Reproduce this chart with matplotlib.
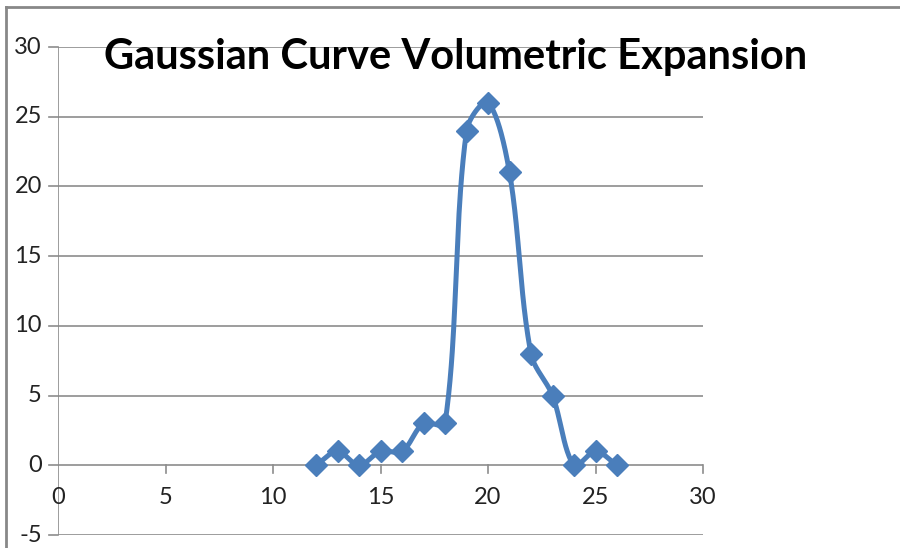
import numpy as np
import matplotlib
matplotlib.use("Agg")
import matplotlib.pyplot as plt
from matplotlib.lines import Line2D

# data
xs = [12, 13, 14, 15, 16, 17, 18, 19, 20, 21, 22, 23, 24, 25, 26]
ys = [0, 1, 0, 1, 1, 3, 3, 24, 26, 21, 8, 5, 0, 1, 0]
x_ticks = [0, 5, 10, 15, 20, 25, 30]
y_ticks = [-5, 0, 5, 10, 15, 20, 25, 30]
title = "Gaussian Curve Volumetric Expansion"

blue = "#4A7EBB"
grid = "#8C8C8C"


def smooth(px, py, n=40, ky=13.94 / 21.5):
    # smoothed line like the spreadsheet one: bezier controls scaled by segment lengths
    P = np.column_stack([np.asarray(px, float), np.asarray(py, float) * ky])
    P = np.vstack([P[0], P, P[-1]])
    t = np.linspace(0, 1, n)[:, None]
    out = []
    for i in range(1, len(P) - 2):
        p0, p1, p2, p3 = P[i - 1], P[i], P[i + 1], P[i + 2]
        d01 = np.hypot(*(p1 - p0))
        d12 = np.hypot(*(p2 - p1))
        d23 = np.hypot(*(p3 - p2))
        f1 = d12 / (d01 + d12) if d01 + d12 > 0 else 0
        f2 = d12 / (d12 + d23) if d12 + d23 > 0 else 0
        c1 = p1 + (p2 - p0) * f1 / 3
        c2 = p2 - (p3 - p1) * f2 / 3
        seg = ((1 - t) ** 3) * p1 + 3 * ((1 - t) ** 2) * t * c1 + 3 * (1 - t) * t ** 2 * c2 + t ** 3 * p2
        out.append(seg)
    out = np.vstack(out)
    return out[:, 0], out[:, 1] / ky


plt.rcParams['font.family'] = ['Lato', 'DejaVu Sans']

fig = plt.figure(figsize=(9, 5.48), dpi=100)
W, H = 900, 548
ax = fig.add_axes([58 / W, 13 / H, (703 - 58) / W, (535 - 47) / H])

ax.set_xlim(0, 30)
ax.set_ylim(-5, 30)

for v in y_ticks:
    ax.axhline(v, color=grid, lw=1.2, zorder=1)
ax.axvline(0, color=grid, lw=1.2, zorder=1)

for s in ax.spines.values():
    s.set_visible(False)

ax.set_xticks([])
ax.set_yticks([])

# x ticks below the x axis at y=0
for v in x_ticks[1:]:
    ax.plot([v, v], [0, -0.55], color=grid, lw=1.2, zorder=1, clip_on=False)
for v in x_ticks:
    ax.text(v, -2.3, str(v), ha='center', va='center', fontsize=17, color='#222222')

# y labels on the left
for v in y_ticks:
    ax.plot([-0.4, 0], [v, v], color=grid, lw=1.2, clip_on=False)
    ax.text(-0.75, v, str(v), ha='right', va='center', fontsize=17, color='#222222')

sx, sy = smooth(xs, ys)
ax.plot(sx, sy, color=blue, lw=3.6, zorder=3, solid_capstyle='round')
ax.plot(xs, ys, linestyle='none', marker='D', ms=11, color=blue,
        markeredgecolor=blue, zorder=4, clip_on=False)

fig.text(456 / W, 1 - 57 / H, title, ha='center', va='center',
         fontsize=30, fontweight='bold', color='black')

# outer chart border (top and left visible)
fig.add_artist(Line2D([6 / W, 6 / W], [0, 1 - 7 / H], transform=fig.transFigure, color='#888888', lw=2))
fig.add_artist(Line2D([6 / W, 1], [1 - 7 / H, 1 - 7 / H], transform=fig.transFigure, color='#888888', lw=2))

fig.savefig("out.png", dpi=100)
